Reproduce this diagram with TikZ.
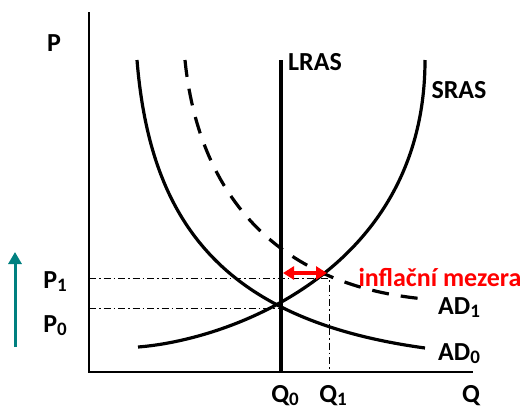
\documentclass[tikz,border=0pt]{standalone}
\usepackage{fontspec}
\setmainfont{Carlito}
\usepackage{tikz}
\usetikzlibrary{arrows.meta}
\definecolor{gapred}{RGB}{255,0,0}
\definecolor{shiftteal}{RGB}{0,128,128}
\tikzset{
  graph/.style={x=1pt,y=-1pt,font=\fontsize{26}{28}\selectfont\bfseries},
  axis/.style={line width=2pt},
  curve/.style={line width=3.2pt},
  shifted/.style={curve,dash pattern=on 17pt off 12pt},
  guide/.style={line width=1pt,dash pattern=on 7pt off 3pt on 1.5pt off 3pt},
  lbl/.style={inner sep=0pt},
}
\newcommand{\sub}[1]{\raisebox{-3pt}{\fontsize{19}{19}\selectfont #1}}
\begin{document}
\begin{tikzpicture}[graph]
\useasboundingbox (0,0) rectangle (525,410);
\coordinate (O) at (89,372);
\coordinate (ytop) at (89,12);
\coordinate (xend) at (473,372);
\coordinate (E0) at (281,308);
\coordinate (E1) at (329,278);
\draw[axis] (ytop) -- (O) -- (xend);
% LRAS
\coordinate (lrastop) at (281,60);
\draw[curve] (lrastop) -- (281,372);
% SRAS
\draw[curve] (138,347) .. controls (230,340) and (425,270) .. (425,60) coordinate (srastop);
% AD0 and AD1
\draw[curve] (137,60) .. controls (150,220) and (220,320) .. (425,348) coordinate (ad0end);
\draw[shifted] (185,60) .. controls (198,190) and (272,285) .. (425,299) coordinate (ad1end);
% guides
\draw[guide] (89,278) -- (E1) -- (E1 |- O);
\draw[guide] (89,308) -- (E0);
\draw[{Triangle[width=13pt,length=11pt]}-{Triangle[width=13pt,length=11pt]},gapred,line width=3.5pt]
  (283,273) coordinate (gapl) -- (327,273) coordinate (gapr);
\draw[-{Triangle[width=13pt,length=12pt]},shiftteal,line width=3pt] (15,347) coordinate (pfrom) -- (15,252) coordinate (pto);
% labels
\node[lbl] (p) at (54,43) {P};
\node[lbl,anchor=west] (lras) at (288,62) {LRAS};
\node[lbl] (sras) at (459,90) {SRAS};
\node[lbl] (p1) at (55,282) {P\sub{1}};
\node[lbl] (p0) at (55,326) {P\sub{0}};
\node[lbl] (ad1) at (459,308) {AD\sub{1}};
\node[lbl] (ad0) at (459,354) {AD\sub{0}};
\node[lbl,text=gapred] (gap) at (440,277) {inflační mezera};
\node[lbl] (q0) at (285,396) {Q\sub{0}};
\node[lbl] (q1) at (333,396) {Q\sub{1}};
\node[lbl] (q) at (471,396) {Q};
\end{tikzpicture}
\end{document}
